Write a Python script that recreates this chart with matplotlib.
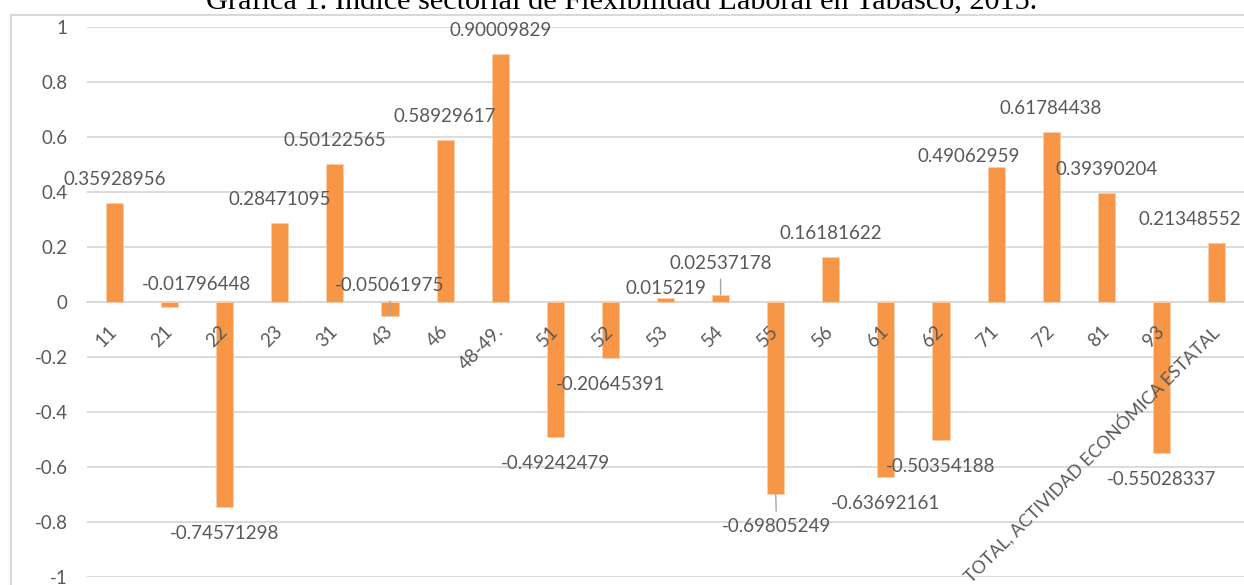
import matplotlib.pyplot as plt
from matplotlib.lines import Line2D
from matplotlib.transforms import ScaledTranslation
import numpy as np

# datos de la grafica
sectores = ['11', '21', '22', '23', '31', '43', '46', '48-49.', '51', '52', '53',
            '54', '55', '56', '61', '62', '71', '72', '81', '93',
            'TOTAL, ACTIVIDAD ECONÓMICA ESTATAL']
indice = [0.35928956, -0.01796448, -0.74571298, 0.28471095, 0.50122565,
          -0.05061975, 0.58929617, 0.90009829, -0.49242479, -0.20645391,
          0.015219, 0.02537178, -0.69805249, 0.16181622, -0.63692161,
          -0.50354188, 0.49062959, 0.61784438, 0.39390204, -0.55028337,
          0.21348552]
titulo = "Gráfica 1. Índice sectorial de Flexibilidad Laboral en Tabasco, 2015."

# etiquetas que excel movio (dx, dy en pixeles desde el extremo de la barra)
movidas = {'21': (27, 22), '43': (0, 30), '53': (0, 9), '54': (0, 31),
           '55': (1, -33), '71': (-27, 10), 'TOTAL, ACTIVIDAD ECONÓMICA ESTATAL': (-27, 23)}
con_linea = ['43', '54', '55']

gris = '#595959'
naranja = '#F79646'
rejilla = '#d9d9d9'
fuente = 'Lato'

fig = plt.figure(figsize=(12.44, 5.85), dpi=100)
ax = fig.add_axes([87 / 1244, 1 - 576.7 / 585, 1 - 87 / 1244, (576.7 - 26.7) / 585])

x = np.arange(len(sectores))
ax.bar(x, indice, width=0.31, color=naranja, edgecolor='#fbd0ad', linewidth=0.5, zorder=3)

ax.set_xlim(-0.5, len(sectores) - 0.5)
ax.set_ylim(-1, 1)
ticks_y = np.round(np.arange(-1, 1.01, 0.2), 1)
ax.set_yticks(ticks_y)
ax.set_yticklabels([('%g' % t) if abs(t) > 1e-9 else '0' for t in ticks_y],
                   fontsize=13.5, color=gris, family=fuente)
ax.yaxis.grid(True, color=rejilla, linewidth=1.3)
ax.set_axisbelow(True)
ax.xaxis.set_zorder(5)  # etiquetas del eje x encima de las barras

for lado in ['top', 'right', 'left']:
    ax.spines[lado].set_visible(False)
ax.spines['bottom'].set_position(('data', 0))
ax.spines['bottom'].set_color(rejilla)
ax.spines['bottom'].set_linewidth(1.3)
ax.spines['bottom'].set_zorder(0.5)

ax.set_xticks(x)
ax.set_xticklabels(sectores, rotation=45, ha='right', fontsize=13.5, color=gris, family=fuente)
ax.tick_params(axis='x', length=0, pad=15)
ax.tick_params(axis='y', length=0, pad=14)
desplaza = ScaledTranslation(6 / 100, 0, fig.dpi_scale_trans)
for et in ax.get_xticklabels():
    et.set_transform(et.get_transform() + desplaza)
    if len(et.get_text()) > 10:
        et.set_fontsize(12.8)  # calibri es mas angosta que lato

# etiquetas de datos
for i, (s, v) in enumerate(zip(sectores, indice)):
    if s in movidas:
        dx, dy = movidas[s]
    else:
        dx, dy = (0, 23.5) if v >= 0 else (0, -26.5)
    props = None
    if s in con_linea:
        props = dict(arrowstyle='-', color='#a6a6a6', lw=1, shrinkA=3, shrinkB=0)
    ax.annotate(str(v), xy=(i, v), xytext=(dx, dy), textcoords='offset pixels',
                ha='center', va='center', fontsize=13.5, color=gris, family=fuente,
                arrowprops=props, zorder=6)

# marco del area de grafico
fig.add_artist(Line2D([11 / 1244, 11 / 1244], [0, 1 - 14.5 / 585], color=rejilla, lw=1.5))
fig.add_artist(Line2D([11 / 1244, 1], [1 - 14.5 / 585, 1 - 14.5 / 585], color=rejilla, lw=1.5))

fig.text(0.5, 1 - 9.5 / 585, titulo, ha='center', va='baseline', fontsize=21.8,
         family='Liberation Serif', color='black')

fig.savefig('out.png', dpi=100)
